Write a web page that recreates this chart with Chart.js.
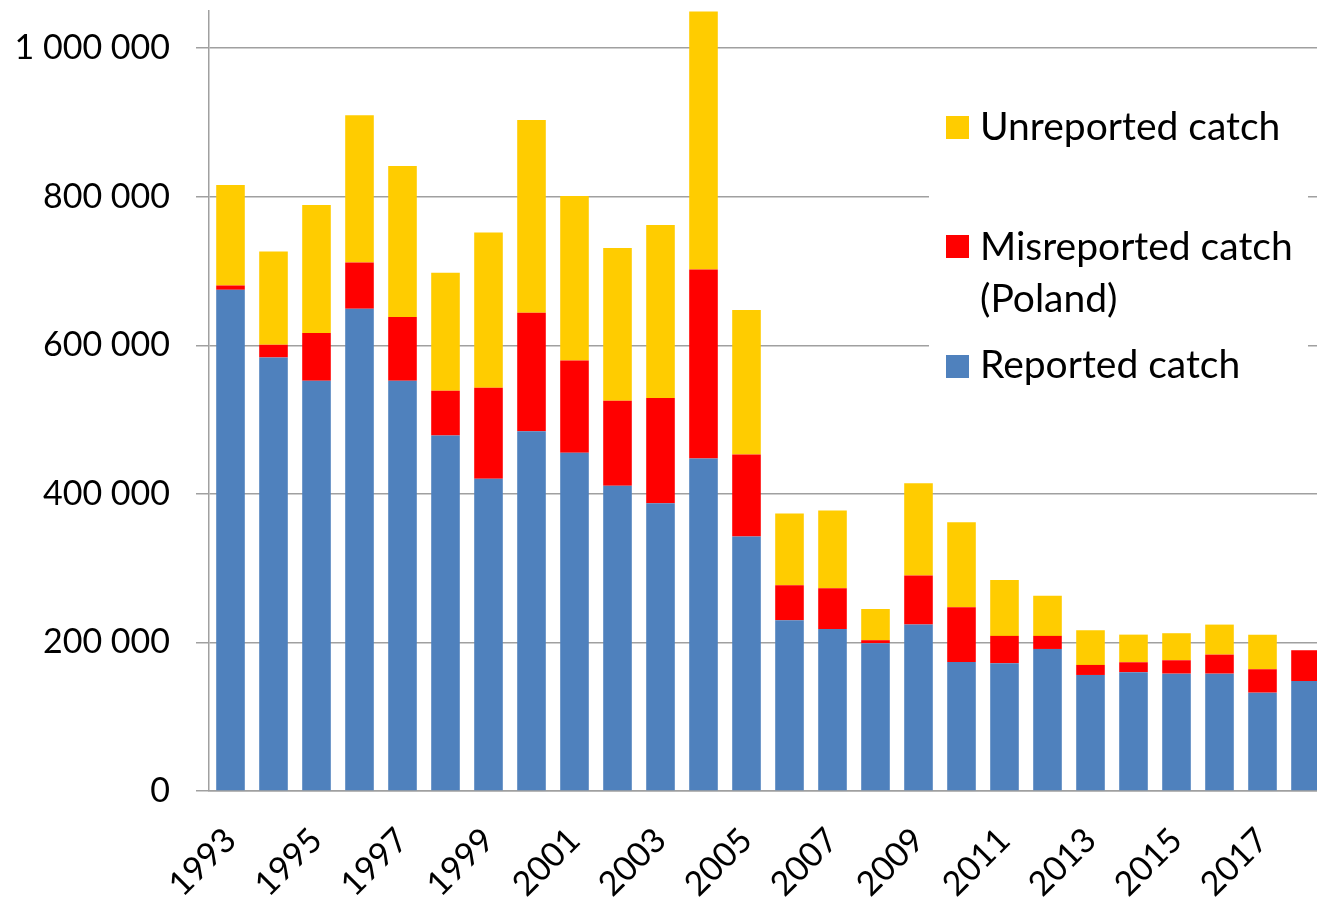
<!DOCTYPE html>
<html>
<head>
<meta charset="utf-8">
<script src="https://cdn.jsdelivr.net/npm/chart.js@4/dist/chart.umd.min.js"></script>
<style>
  html, body { margin: 0; padding: 0; background: #fff; overflow: hidden; }
  #wrap { width: 1327px; height: 897px; }
</style>
</head>
<body>
<div id="wrap"><canvas id="c" width="1327" height="897"></canvas></div>
<script>
const years = ['1993','1994','1995','1996','1997','1998','1999','2000','2001','2002','2003','2004','2005','2006','2007','2008','2009','2010','2011','2012','2013','2014','2015','2016','2017','2018'];

const reported = [674700,583600,552200,649200,552200,478500,420200,484400,455200,410800,387500,447500,342500,229900,218200,198900,224000,173700,172000,191200,156200,159900,158000,158000,132400,148100];
const misreported = [5800,17100,64200,62300,85800,60200,122600,159400,124300,114500,141400,254600,110400,47100,54800,4100,66000,73700,36800,17600,13500,13400,18000,25600,31500,41400];
const unreported = [135300,125600,172400,198000,203300,158900,209100,259500,221400,205600,233000,347100,194500,96500,104500,42100,124400,114500,75400,54200,46700,37200,36400,40400,46600,0];

const yTicks = [0, 200000, 400000, 600000, 800000, 1000000];

const reportedLines = ['Reported catch'];
const misreportedLines = ['Misreported catch', '(Poland)'];
const unreportedLines = ['Unreported catch'];

const FONT = 'Lato, "Open Sans", sans-serif';

function fmt(v) {
  return String(v).replace(/\B(?=(\d{3})+(?!\d))/g, ' ');
}

const legendPlugin = {
  id: 'customLegend',
  afterDraw(chart) {
    const ctx = chart.ctx;
    ctx.save();
    ctx.fillStyle = '#ffffff';
    ctx.fillRect(929, 92, 379, 310);
    const ds = chart.data.datasets;
    const items = [
      { d: ds[2], lines: unreportedLines, sq: 116, base: 140 },
      { d: ds[1], lines: misreportedLines, sq: 235, base: 260 },
      { d: ds[0], lines: reportedLines, sq: 355, base: 378 }
    ];
    ctx.font = '39px ' + FONT;
    ctx.textBaseline = 'alphabetic';
    ctx.textAlign = 'left';
    items.forEach(it => {
      ctx.fillStyle = it.d.backgroundColor;
      ctx.fillRect(946, it.sq, 23, 23);
      ctx.fillStyle = '#000';
      it.lines.forEach((ln, i) => {
        ctx.fillText(ln, 980, it.base + i * 52);
      });
    });
    ctx.restore();
  }
};

new Chart(document.getElementById('c'), {
  type: 'bar',
  data: {
    labels: years,
    datasets: [
      { label: reportedLines.join(' '), data: reported, backgroundColor: '#4F81BD', stack: 's' },
      { label: misreportedLines.join(' '), data: misreported, backgroundColor: '#FF0000', stack: 's' },
      { label: unreportedLines.join(' '), data: unreported, backgroundColor: '#FFCC00', stack: 's' }
    ]
  },
  options: {
    responsive: false,
    maintainAspectRatio: false,
    animation: false,
    devicePixelRatio: 1,
    layout: { padding: { top: 11, right: 0, bottom: 0, left: 0 } },
    datasets: { bar: { categoryPercentage: 1, barPercentage: 0.665, borderWidth: 0 } },
    plugins: { legend: { display: false }, tooltip: { enabled: false }, title: { display: false } },
    scales: {
      x: {
        stacked: true,
        grid: { display: false, drawTicks: false },
        border: { display: true, color: '#a0a0a0', width: 1.5 },
        ticks: {
          autoSkip: false,
          maxRotation: 45,
          minRotation: 45,
          padding: 29,
          color: '#000',
          font: { family: FONT, size: 34 },
          callback: function(val, idx) { return idx % 2 === 0 ? years[idx] : ''; }
        },
        afterFit(scale) { scale.height = 106; scale.paddingLeft = 0; scale.paddingRight = 0; }
      },
      y: {
        stacked: true,
        min: 0,
        max: 1050000,
        grid: { color: '#a0a0a0', lineWidth: 1.5, drawTicks: true, tickLength: 13 },
        border: { display: true, color: '#a0a0a0', width: 1.5 },
        afterBuildTicks(scale) { scale.ticks = yTicks.map(v => ({ value: v })); },
        ticks: {
          padding: 26,
          color: '#000',
          font: { family: FONT, size: 34 },
          callback: function(v) { return fmt(v); }
        },
        afterFit(scale) { scale.width = 209; scale.paddingTop = 0; scale.paddingBottom = 0; }
      }
    }
  },
  plugins: [legendPlugin]
});
</script>
</body>
</html>
